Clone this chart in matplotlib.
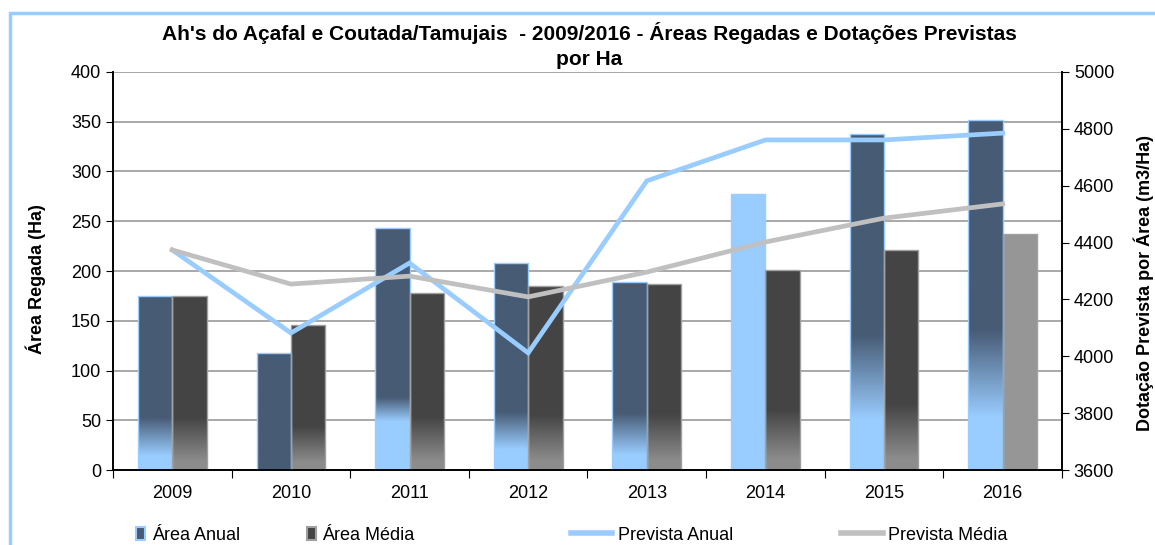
import numpy as np
import matplotlib
matplotlib.use("Agg")
import matplotlib.pyplot as plt
from matplotlib.patches import Patch, Rectangle
from matplotlib.lines import Line2D
from matplotlib.colors import to_rgba

plt.rcParams["font.family"] = ["Liberation Sans", "DejaVu Sans"]

# data
years = ["2009", "2010", "2011", "2012", "2013", "2014", "2015", "2016"]
area_anual = [175, 118, 243, 208, 189, 277, 338, 352]
area_media = [175, 146, 178, 185, 187, 201, 221, 237]
prevista_anual = [4374, 4082, 4328, 4012, 4617, 4761, 4761, 4785]
prevista_media = [4374, 4254, 4282, 4209, 4296, 4402, 4486, 4536]

# per-bar fill styles: (top colour, bottom colour, fade start, fade end) as fraction of bar height
NAVY = "#475B74"
LIGHT = "#99CCFF"
DGRAY = "#444444"
anual_fill = [
    (NAVY, LIGHT, 0.08, 0.30),
    (NAVY, NAVY, 0.0, 0.1),
    (NAVY, LIGHT, 0.20, 0.30),
    (NAVY, LIGHT, 0.10, 0.28),
    (NAVY, LIGHT, 0.08, 0.30),
    (LIGHT, LIGHT, 0.0, 0.1),
    (NAVY, LIGHT, 0.15, 0.40),
    (NAVY, LIGHT, 0.15, 0.40),
]
media_fill = [(DGRAY, "#8C8C8C", 0.05, 0.30)] * 7 + [("#969696", "#969696", 0.0, 0.1)]


def gradient_bar(ax, rect, top, bottom, f0, f1):
    h = rect.get_height()
    n = 200
    frac = np.linspace(0, 1, n)  # 0 = bottom
    t = np.clip((frac - f0) / max(f1 - f0, 1e-6), 0, 1)
    c_top = np.array(to_rgba(top))
    c_bot = np.array(to_rgba(bottom))
    img = c_bot[None, :] * (1 - t[:, None]) + c_top[None, :] * t[:, None]
    img = img[:, None, :]
    x0 = rect.get_x()
    im = ax.imshow(img, extent=[x0, x0 + rect.get_width(), 0, h], origin="lower",
                   aspect="auto", zorder=2, interpolation="bilinear")
    im.set_clip_path(rect)


fig = plt.figure(figsize=(11.55, 5.45), dpi=100)
ax = fig.add_axes([0.0978, 0.1376, 0.8217, 0.7303])
ax2 = ax.twinx()

x = np.arange(len(years))
w = 0.29
bars1 = ax.bar(x - w / 2, area_anual, w, facecolor="none", edgecolor=LIGHT, linewidth=1.0, zorder=3)
bars2 = ax.bar(x + w / 2, area_media, w, facecolor="none", edgecolor="#A0A0A0", linewidth=1.0, zorder=3)
for rect, st in zip(bars1, anual_fill):
    gradient_bar(ax, rect, *st)
for rect, st in zip(bars2, media_fill):
    gradient_bar(ax, rect, *st)

ax.set_xlim(-0.5, len(years) - 0.5)
ax.set_ylim(0, 400)
ax.set_yticks(range(0, 401, 50))
ax.yaxis.grid(True, color="#999999", linewidth=1.2)
ax.set_axisbelow(True)
ax.set_xticks(np.arange(-0.5, len(years), 1))
ax.set_xticklabels([])
ax.set_xticks(x, minor=True)
ax.set_xticklabels(years, minor=True, fontsize=13)
ax.tick_params(axis="x", which="minor", length=0, pad=11)
ax.tick_params(axis="x", which="major", length=6, direction="out", color="black")
ax.tick_params(axis="y", labelsize=13, length=5, direction="out")
ax.set_ylabel("Área Regada (Ha)", fontsize=13, fontweight="bold")
ax.yaxis.set_label_coords(-0.0706, 0.48)

ax2.plot(x, prevista_anual, color=LIGHT, linewidth=3.4, solid_joinstyle="miter")
ax2.plot(x, prevista_media, color="#C0C0C0", linewidth=3.4, solid_joinstyle="miter")
ax2.set_ylim(3600, 5000)
ax2.set_yticks(range(3600, 5001, 200))
ax2.tick_params(axis="y", labelsize=13, length=5, direction="out")
ax2.set_ylabel("Dotação Prevista por Área (m3/Ha)", fontsize=13, fontweight="bold")
ax2.yaxis.set_label_coords(1.0748, 0.47)

for a in (ax, ax2):
    a.spines["top"].set_visible(False)
    for s in ("left", "right", "bottom"):
        a.spines[s].set_color("black")
        a.spines[s].set_linewidth(1.2)

fig.text(0.51, 0.939, "Ah's do Açafal e Coutada/Tamujais  - 2009/2016 - Áreas Regadas e Dotações Previstas",
         ha="center", va="center", fontsize=15, fontweight="bold")
fig.text(0.51, 0.891, "por Ha", ha="center", va="center", fontsize=15, fontweight="bold")

# chart area border
fig.add_artist(Rectangle((10 / 1155, -0.2), 1.2, 1.2 - 13 / 545, transform=fig.transFigure,
                         fill=False, edgecolor=LIGHT, linewidth=2.5))

h_bars = [Patch(facecolor=NAVY, edgecolor=LIGHT, linewidth=1.5),
          Patch(facecolor=DGRAY, edgecolor="#A0A0A0", linewidth=1.5)]
h_lines = [Line2D([], [], color=LIGHT, linewidth=4), Line2D([], [], color="#C0C0C0", linewidth=4)]
leg1 = fig.legend(h_bars, ["Área Anual", "Área Média"], ncol=2, frameon=False, fontsize=13,
                  handlelength=0.5, handleheight=0.75, handletextpad=0.35, columnspacing=3.7,
                  loc="center left", bbox_to_anchor=(0.104, 0.018))
leg2 = fig.legend(h_lines, ["Prevista Anual", "Prevista Média"], ncol=2, frameon=False, fontsize=13,
                  handlelength=2.3, handletextpad=0.3, columnspacing=6.0,
                  loc="center left", bbox_to_anchor=(0.48, 0.018))

fig.savefig("out.png", dpi=100)
